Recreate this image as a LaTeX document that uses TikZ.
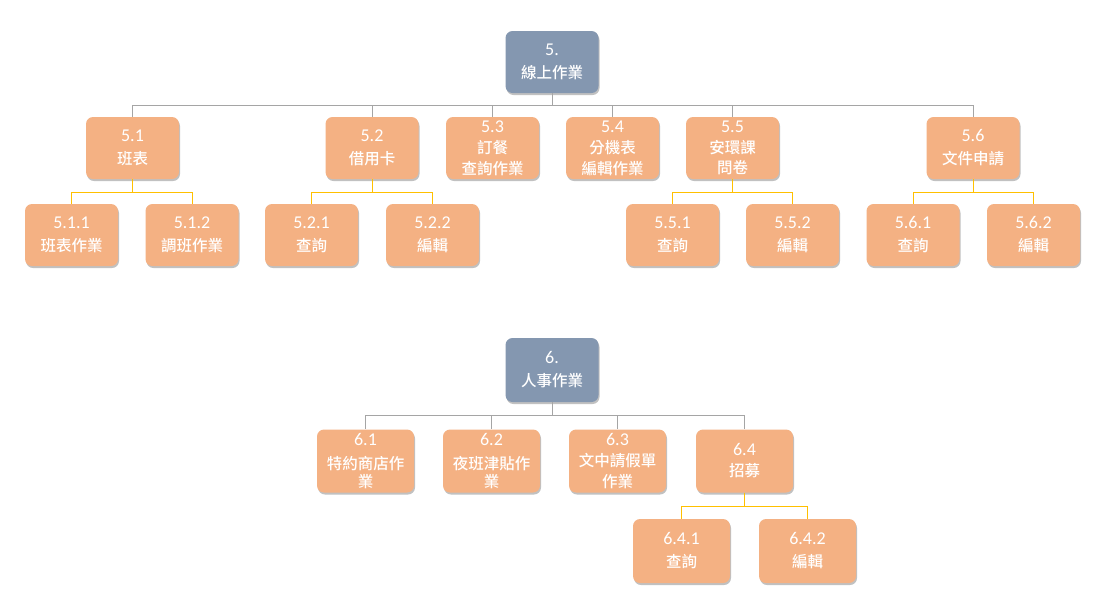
\documentclass[tikz,border=0pt]{standalone}
\usepackage{fontspec}
\setmainfont{Carlito}
\newfontfamily\cjk{Noto Sans CJK TC}[UprightFont=* Medium]
\usetikzlibrary{shadows}
\definecolor{boxor}{HTML}{F4B183}
\definecolor{boxbl}{HTML}{8497B0}
\definecolor{lngray}{HTML}{A5A5A5}
\definecolor{lnyel}{HTML}{FFC000}
\tikzset{
  box/.style={draw=none, fill=boxor, rounded corners=7pt, minimum width=93pt, minimum height=62pt,
    inner sep=0pt, align=center, text=white, font=\fontsize{15.5}{23}\selectfont,
    drop shadow={shadow xshift=1pt, shadow yshift=-2pt, opacity=0.35, fill=black!70}},
  topbox/.style={box, fill=boxbl},
  tight/.style={font=\fontsize{15.5}{21}\selectfont},
  wide/.style={minimum width=97pt, minimum height=63pt},
  gline/.style={draw=lngray, line width=1pt},
  yline/.style={draw=lnyel, line width=1pt},
}
\newcommand{\dg}[1]{{\fontsize{18}{20}\selectfont #1}}
\newcommand{\tw}[2]{\dg{#1}\\{\cjk #2}}
\begin{document}
\begin{tikzpicture}[x=1pt,y=-1pt]
\useasboundingbox (0,0) rectangle (1102,611);
% buses
\coordinate (b5) at (0,105);
\coordinate (b51) at (0,192);
\coordinate (b52) at (0,192);
\coordinate (b55) at (0,192);
\coordinate (b56) at (0,192);
\coordinate (b6) at (0,415);
\coordinate (b64) at (0,506);
% top tree
\node[topbox] (n5) at (552,62) {\tw{5.}{線上作業}};
\node[box] (n51) at (132.5,148) {\tw{5.1}{班表}};
\node[box] (n52) at (372,148) {\tw{5.2}{借用卡}};
\node[box,tight] (n53) at (492.5,148) {\dg{5.3}\\{\cjk 訂餐}\\{\cjk 查詢作業}};
\node[box,tight] (n54) at (612.5,148) {\dg{5.4}\\{\cjk 分機表}\\{\cjk 編輯作業}};
\node[box] (n55) at (732.5,148) {\dg{5.5}\\[-2pt]{\cjk 安環課}\\[-3pt]{\cjk 問卷}};
\node[box] (n56) at (973,148) {\tw{5.6}{文件申請}};
\node[box] (n511) at (71.5,235) {\tw{5.1.1}{班表作業}};
\node[box] (n512) at (192,235) {\tw{5.1.2}{調班作業}};
\node[box] (n521) at (311.5,235) {\tw{5.2.1}{查詢}};
\node[box] (n522) at (432.5,235) {\tw{5.2.2}{編輯}};
\node[box] (n551) at (672.5,235) {\tw{5.5.1}{查詢}};
\node[box] (n552) at (792.5,235) {\tw{5.5.2}{編輯}};
\node[box] (n561) at (913,235) {\tw{5.6.1}{查詢}};
\node[box] (n562) at (1033.5,235) {\tw{5.6.2}{編輯}};
% bottom tree
\node[topbox, minimum height=64pt] (n6) at (552,370) {\tw{6.}{人事作業}};
\node[box,wide,tight] (n61) at (365.5,461) {\dg{6.1}\\[3pt]{\cjk 特約商店作}\\[-3pt]{\cjk 業}};
\node[box,wide,tight] (n62) at (491.5,461) {\dg{6.2}\\[3pt]{\cjk 夜班津貼作}\\[-3pt]{\cjk 業}};
\node[box,wide,tight] (n63) at (617.5,461) {\dg{6.3}\\{\cjk 文中請假單}\\{\cjk 作業}};
\node[box,wide,tight] (n64) at (744.5,461) {\tw{6.4}{招募}};
\node[box,wide,minimum height=64pt] (n641) at (681.5,551) {\tw{6.4.1}{查詢}};
\node[box,wide,minimum height=64pt] (n642) at (807.5,551) {\tw{6.4.2}{編輯}};
% connectors
\foreach \c in {n51,n52,n53,n54,n55,n56}
  \draw[gline] (n5.south) -- (n5.south |- b5) -| (\c.north);
\foreach \c in {n511,n512}
  \draw[yline] (n51.south) -- (n51.south |- b51) -| (\c.north);
\foreach \c in {n521,n522}
  \draw[yline] (n52.south) -- (n52.south |- b52) -| (\c.north);
\foreach \c in {n551,n552}
  \draw[yline] (n55.south) -- (n55.south |- b55) -| (\c.north);
\foreach \c in {n561,n562}
  \draw[yline] (n56.south) -- (n56.south |- b56) -| (\c.north);
\foreach \c in {n61,n62,n63,n64}
  \draw[gline] (n6.south) -- (n6.south |- b6) -| (\c.north);
\foreach \c in {n641,n642}
  \draw[yline] (n64.south) -- (n64.south |- b64) -| (\c.north);
\end{tikzpicture}
\end{document}
